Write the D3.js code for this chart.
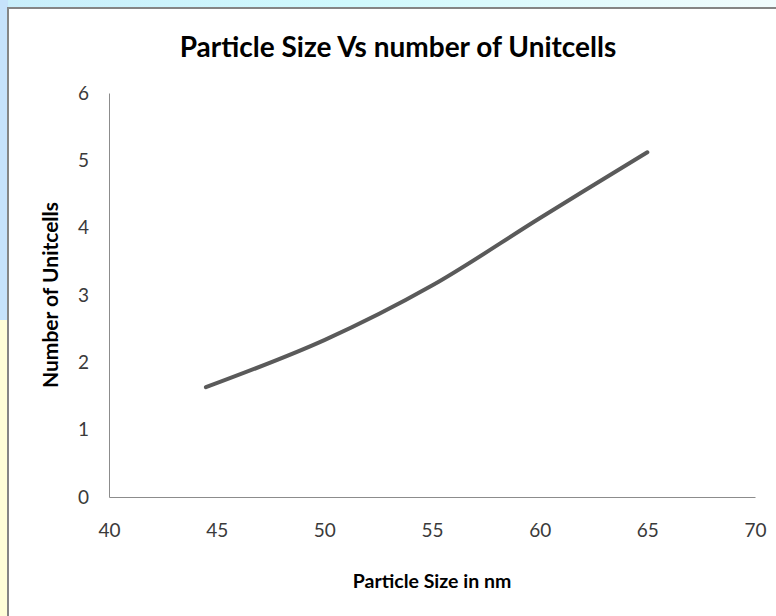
<!DOCTYPE html>
<meta charset="utf-8">
<style>
body { margin: 0; }
svg { display: block; }
.tick text { font-family: Lato, "Open Sans", sans-serif; font-size: 19px; fill: #3a3a3a; }
.axis path { stroke: #8c8c8c; }
.line { fill: none; stroke: #5a5a5a; stroke-width: 4px; stroke-linecap: round; }
.title { font-family: Lato, "Open Sans", sans-serif; font-weight: bold; font-size: 28px; fill: #000; }
.atitle { font-family: Lato, "Open Sans", sans-serif; font-weight: bold; fill: #000; }
</style>
<body>
<script src="https://cdn.jsdelivr.net/npm/d3@7"></script>
<script>

// data
var particleSize = [44.5, 50, 55, 60, 65];
var unitCells = [1.63, 2.33, 3.14, 4.14, 5.12];
var xTicks = [40, 45, 50, 55, 60, 65, 70];
var yTicks = [0, 1, 2, 3, 4, 5, 6];

var W = 776, H = 616;
var svg = d3.select("body").append("svg")
    .attr("width", W)
    .attr("height", H);

// slide background peeking round the chart frame
var defs = svg.append("defs");
var g1 = defs.append("linearGradient").attr("id", "topbg").attr("x1", 0).attr("x2", 1);
g1.append("stop").attr("offset", "0%").attr("stop-color", "#c9eefb");
g1.append("stop").attr("offset", "45%").attr("stop-color", "#cff9fd");
g1.append("stop").attr("offset", "100%").attr("stop-color", "#f1fcfd");
svg.append("rect").attr("width", W).attr("height", H).attr("fill", "#fffed8");
svg.append("rect").attr("width", W).attr("height", 320).attr("fill", "url(#topbg)");
svg.append("rect").attr("x", 0).attr("y", 0).attr("width", 8).attr("height", 320).attr("fill", "#c6e2fb");

// chart frame
svg.append("rect")
    .attr("x", 8).attr("y", 8)
    .attr("width", W + 10).attr("height", H + 10)
    .attr("fill", "#fff")
    .attr("stroke", "#858585")
    .attr("stroke-width", 2);

var x = d3.scaleLinear().domain([40, 70]).range([109, 755]);
var y = d3.scaleLinear().domain([0, 6]).range([497, 93]);

svg.append("g")
    .attr("class", "axis")
    .attr("transform", "translate(0," + y(0) + ")")
    .call(d3.axisBottom(x).tickValues(xTicks).tickSize(0).tickPadding(27))
    .call(g => g.selectAll(".tick text").attr("dy", "0.71em"));

svg.append("g")
    .attr("class", "axis")
    .attr("transform", "translate(" + x(40) + ",0)")
    .call(d3.axisLeft(y).tickValues(yTicks).tickFormat(d3.format("d")).tickSize(0).tickPadding(20));

var line = d3.line()
    .x((d, i) => x(particleSize[i]))
    .y(d => y(d))
    .curve(d3.curveCatmullRom.alpha(0.5));

svg.append("path")
    .datum(unitCells)
    .attr("class", "line")
    .attr("d", line);

svg.append("text")
    .attr("class", "title")
    .attr("x", 398).attr("y", 57)
    .attr("text-anchor", "middle")
    .text("Particle Size Vs number of Unitcells");

svg.append("text")
    .attr("class", "atitle")
    .style("font-size", "19.5px")
    .attr("x", 432).attr("y", 588)
    .attr("text-anchor", "middle")
    .text("Particle Size in nm");

svg.append("text")
    .attr("class", "atitle")
    .style("font-size", "21px")
    .attr("transform", "translate(58,295)rotate(-90)")
    .attr("text-anchor", "middle")
    .text("Number of Unitcells");

</script>
</body>
